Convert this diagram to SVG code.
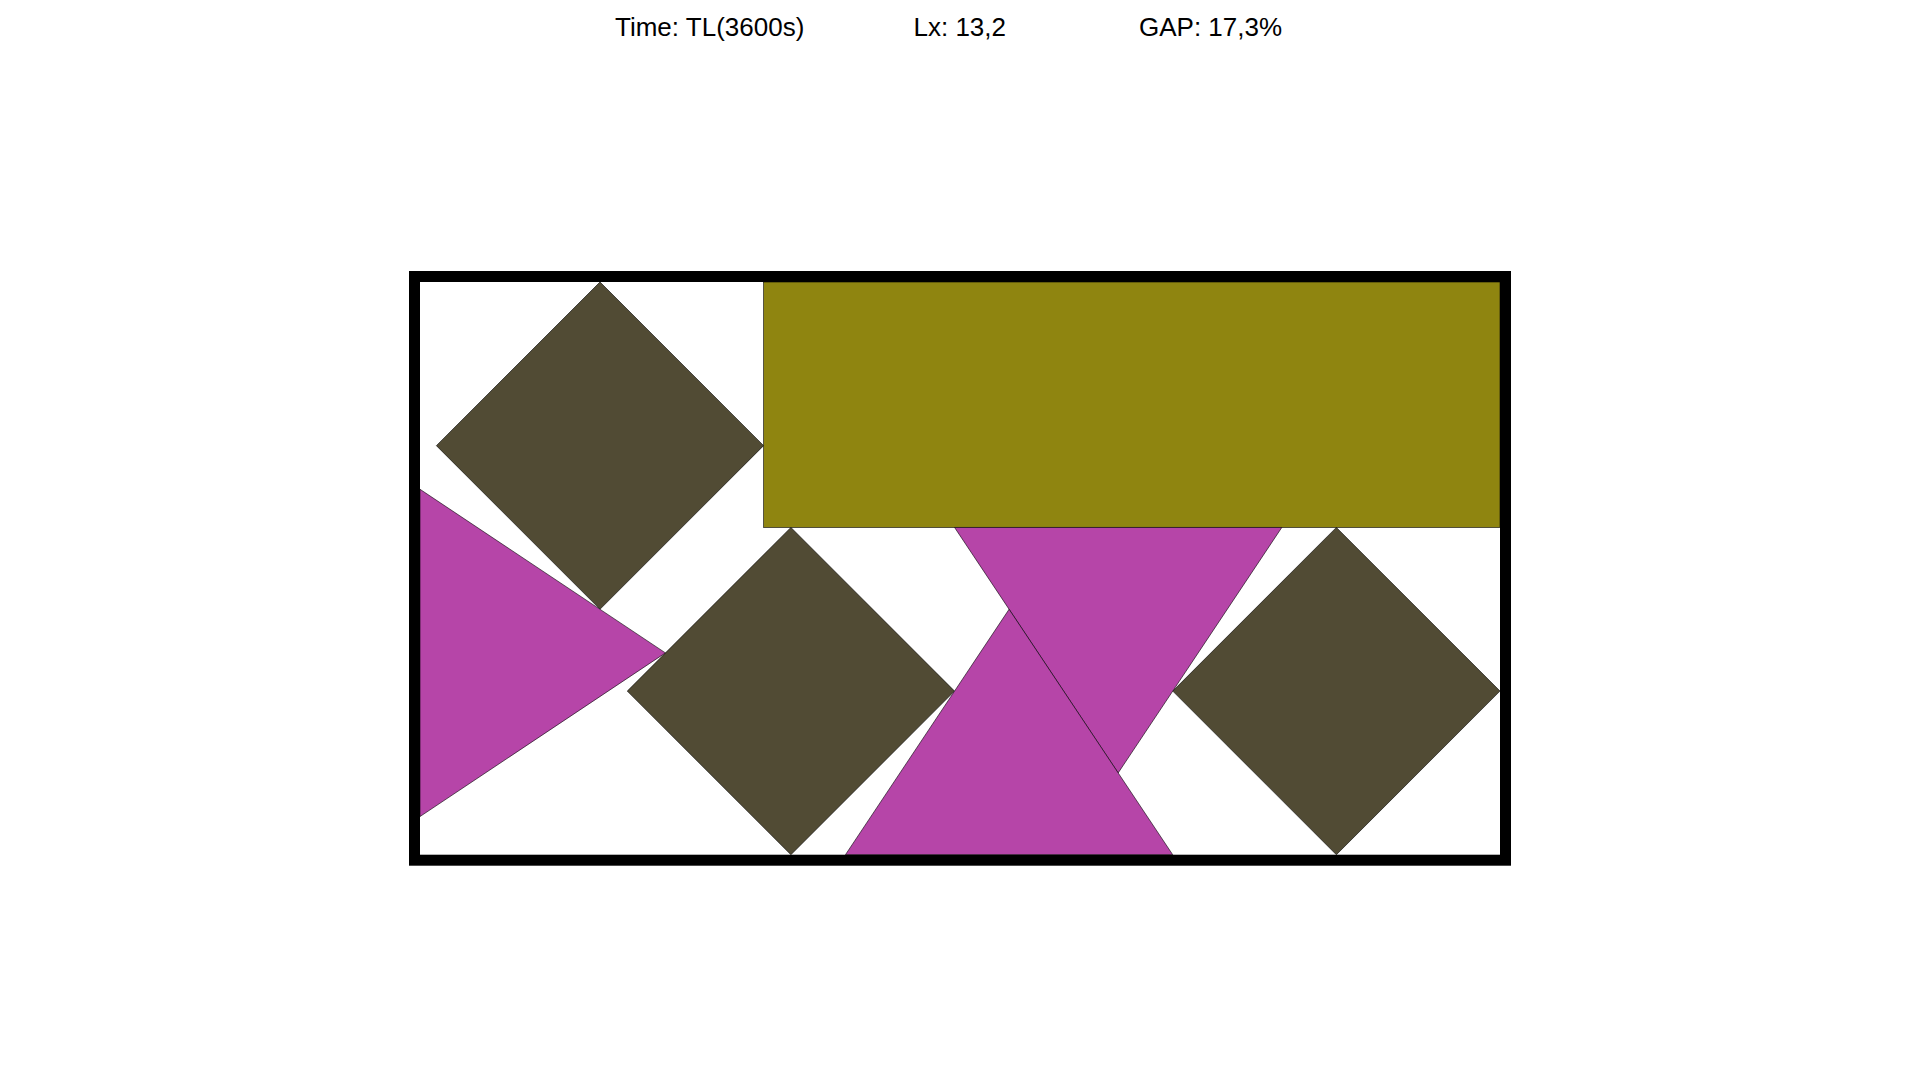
<svg xmlns="http://www.w3.org/2000/svg" width="1920" height="1080" viewBox="0 0 1920 1080">
<style>
  .lbl { font-family: "Liberation Sans", Arial, sans-serif; font-size: 26px; fill: #000; }
  .dia { fill: #514B34; stroke: #000; stroke-width: 0.6; }
  .tri { fill: #B645A8; stroke: #000; stroke-width: 0.6; }
  .rect { fill: #8F8510; stroke: #000; stroke-width: 0.6; }
  .frame { fill: none; stroke: #000; stroke-width: 11; }
</style>
<rect x="0" y="0" width="1920" height="1080" fill="#fff"/>
<g id="header">
  <text class="lbl" x="615" y="36">Time: TL(3600s)</text>
  <text class="lbl" x="913.5" y="36">Lx: 13,2</text>
  <text class="lbl" x="1139" y="36">GAP: 17,3%</text>
</g>
<g id="pieces">
  <polygon id="diamond1" class="dia" points="600,282 763.64,445.64 600,609.27 436.36,445.64"/>
  <rect id="bar" class="rect" x="763.64" y="282" width="736.36" height="245.45"/>
  <polygon id="diamond2" class="dia" points="790.91,527.45 954.55,691.09 790.91,854.73 627.27,691.09"/>
  <polygon id="diamond3" class="dia" points="1336.36,527.45 1500,691.09 1336.36,854.73 1172.73,691.09"/>
  <polygon id="tri1" class="tri" points="420,489.27 665.45,652.91 420,816.55"/>
  <polygon id="tri2" class="tri" points="954.55,527.45 1281.82,527.45 1118.18,772.91"/>
  <polygon id="tri3" class="tri" points="1009.09,609.27 1172.73,854.73 845.45,854.73"/>
</g>
<rect id="container" class="frame" x="414.5" y="276.5" width="1091" height="583.7"/>
</svg>
